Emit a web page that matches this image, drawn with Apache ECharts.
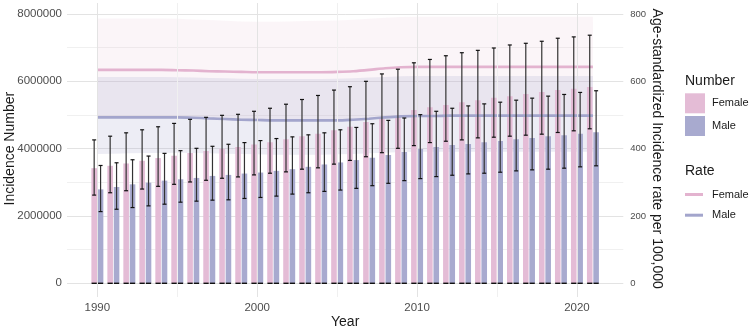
<!DOCTYPE html>
<html>
<head>
<meta charset="utf-8">
<script src="https://cdn.jsdelivr.net/npm/echarts@6/dist/echarts.min.js"></script>
<style>html,body{margin:0;padding:0;background:#fff}#c{width:752px;height:333px}</style>
</head>
<body>
<div id="c"></div>
<script>
const years = [1990,1991,1992,1993,1994,1995,1996,1997,1998,1999,2000,2001,2002,2003,2004,2005,2006,2007,2008,2009,2010,2011,2012,2013,2014,2015,2016,2017,2018,2019,2020,2021];
const femaleNum  = [3420000,3490000,3560000,3640000,3720000,3790000,3870000,3930000,4000000,4050000,4120000,4190000,4280000,4370000,4440000,4550000,4650000,4790000,4880000,4980000,5150000,5230000,5300000,5380000,5440000,5510000,5560000,5620000,5680000,5740000,5780000,5830000];
const femaleLow  = [2620000,2690000,2750000,2800000,2880000,2940000,3010000,3060000,3120000,3160000,3220000,3270000,3310000,3390000,3430000,3540000,3650000,3760000,3880000,4010000,4090000,4180000,4220000,4260000,4320000,4340000,4370000,4400000,4430000,4480000,4530000,4590000];
const femaleHigh = [4260000,4370000,4470000,4560000,4650000,4750000,4870000,4930000,4990000,5020000,5110000,5200000,5320000,5460000,5580000,5740000,5840000,6000000,6220000,6360000,6550000,6650000,6760000,6850000,6920000,6990000,7080000,7130000,7190000,7280000,7320000,7370000];
const maleNum  = [2790000,2860000,2940000,2990000,3050000,3090000,3130000,3190000,3220000,3260000,3290000,3340000,3390000,3460000,3530000,3590000,3660000,3730000,3810000,3900000,3990000,4050000,4110000,4140000,4190000,4230000,4280000,4320000,4370000,4400000,4440000,4490000];
const maleLow  = [2130000,2200000,2250000,2300000,2350000,2410000,2440000,2470000,2480000,2520000,2550000,2590000,2650000,2690000,2730000,2770000,2820000,2900000,2970000,3050000,3110000,3170000,3210000,3250000,3270000,3300000,3340000,3370000,3390000,3420000,3460000,3490000];
const maleHigh = [3500000,3580000,3670000,3780000,3860000,3940000,4010000,4070000,4130000,4180000,4240000,4300000,4350000,4410000,4470000,4560000,4630000,4740000,4840000,4910000,5010000,5110000,5200000,5270000,5330000,5380000,5440000,5500000,5560000,5610000,5670000,5720000];
const femaleRate      = [634,634,634,634,634,633,632,630,629,628,627,627,627,627,627,628,630,634,639,642,643,643,643,643,643,643,643,643,643,643,643,643];
const femaleRateUpper = [787,787,787,787,787,786,784,782,780,778,777,777,778,779,780,781,783,786,789,791,792,792,792,792,792,792,792,792,792,792,792,792];
const femaleRateLower = [491,491,491,491,491,490,489,487,485,483,482,481,481,481,481,482,484,487,490,493,495,495,495,495,495,495,495,495,495,495,495,495];
const maleRate      = [493,493,493,493,493,493,492,490,488,486,485,484,484,484,484,484,486,489,493,496,497,497,498,498,498,498,498,498,498,498,498,498];
const maleRateUpper = [613,613,613,613,613,612,611,610,609,608,607,607,607,607,607,608,609,611,613,615,616,616,616,616,616,616,616,616,616,616,616,616];
const maleRateLower = [384,385,386,387,387,388,387,386,385,384,383,382,382,382,382,383,384,386,388,390,391,391,391,391,391,391,391,391,391,391,391,391];
const xTickLabels = [1990,2000,2010,2020];
const xMinorTicks = [1995,2005,2015];
const leftTicks = [0,2000000,4000000,6000000,8000000];
const rightTicks = [0,200,400,600,800];

const FONT = "'Liberation Sans', Arial, sans-serif";
const C_F = '#e4bcd6', C_M = '#a8aacf';
const C_FL = '#e3b3cf', C_ML = '#a3a5cc';

function bandSeries(name, upper, lower, fill) {
  return {
    type: 'custom', name: name, xAxisIndex: 0, yAxisIndex: 1, z: 1, silent: true,
    data: years.map((y, i) => [y, upper[i], lower[i]]),
    renderItem: function (params, api) {
      if (params.dataIndex !== 0) return null;
      const pts = [];
      for (let i = 0; i < years.length; i++) pts.push(api.coord([years[i], upper[i]]));
      for (let i = years.length - 1; i >= 0; i--) pts.push(api.coord([years[i], lower[i]]));
      return { type: 'polygon', shape: { points: pts }, style: { fill: fill } };
    }
  };
}

function errSeries(name, low, high, offset) {
  return {
    type: 'custom', name: name, xAxisIndex: 0, yAxisIndex: 0, z: 5, silent: true,
    data: years.map((y, i) => [y, low[i], high[i]]),
    renderItem: function (params, api) {
      const x = api.value(0);
      const lo = api.coord([x, api.value(1)]);
      const hi = api.coord([x, api.value(2)]);
      const b = api.coord([x, 0]);
      const cx = lo[0] + offset;
      const cap = 2;
      return {
        type: 'group', children: [
          { type: 'line', shape: { x1: cx, y1: hi[1], x2: cx, y2: lo[1] }, style: { stroke: '#333', lineWidth: 1.2 } },
          { type: 'line', shape: { x1: cx - cap, y1: hi[1], x2: cx + cap, y2: hi[1] }, style: { stroke: '#111', lineWidth: 1.2 } },
          { type: 'line', shape: { x1: cx - cap, y1: lo[1], x2: cx + cap, y2: lo[1] }, style: { stroke: '#111', lineWidth: 1.2 } },
          { type: 'line', shape: { x1: cx - 2.6, y1: b[1], x2: cx + 2.6, y2: b[1] }, style: { stroke: '#111', lineWidth: 1.4 } }
        ]
      };
    }
  };
}

const gridMarks = xTickLabels.map(v => ({ xAxis: v, lineStyle: { color: '#e3e3e3', width: 1, type: 'solid' } }))
  .concat(xMinorTicks.map(v => ({ xAxis: v, lineStyle: { color: '#f0f0f0', width: 1, type: 'solid' } })));

const chart = echarts.init(document.getElementById('c'), null, { renderer: 'canvas' });
chart.setOption({
  animation: false,
  backgroundColor: '#ffffff',
  textStyle: { fontFamily: FONT },
  grid: [
    { left: 67, right: 128.7, top: 14, bottom: 49.7, containLabel: false, outerBoundsMode: 'none' },
    { left: 67, right: 128.7, top: 3, bottom: 36, containLabel: false, outerBoundsMode: 'none' }
  ],
  xAxis: [
    {
      type: 'value', gridIndex: 0, min: 1988.1, max: 2022.9,
      axisLine: { show: false }, axisTick: { show: false }, splitLine: { show: false },
      axisLabel: { customValues: xTickLabels, margin: 19, fontSize: 11.5, color: '#4d4d4d', fontFamily: FONT, formatter: v => String(v) },
      name: 'Year', nameLocation: 'middle', nameGap: 32, nameMoveOverlap: false,
      nameTextStyle: { fontSize: 14, color: '#1a1a1a', fontFamily: FONT }
    },
    {
      type: 'value', gridIndex: 1, min: 1988.1, max: 2022.9, show: false,
      splitLine: { show: false }
    }
  ],
  yAxis: [
    {
      type: 'value', gridIndex: 0, min: 0, max: 8000000, interval: 2000000, position: 'left',
      axisLine: { show: false }, axisTick: { show: false },
      splitLine: { show: true, lineStyle: { color: '#e3e3e3', width: 1 } },
      minorTick: { show: false, splitNumber: 2 },
      minorSplitLine: { show: true, lineStyle: { color: '#f0f0f0', width: 1 } },
      axisLabel: { customValues: leftTicks, margin: 5, fontSize: 11.5, color: '#4d4d4d', fontFamily: FONT, formatter: v => String(v) },
      name: 'Incidence Number', nameLocation: 'middle', nameGap: 49.5, nameMoveOverlap: false,
      nameTextStyle: { fontSize: 14, color: '#1a1a1a', fontFamily: FONT }
    },
    {
      type: 'value', gridIndex: 0, min: 0, max: 800, interval: 200, position: 'right',
      axisLine: { show: false }, axisTick: { show: false }, splitLine: { show: false },
      axisLabel: { margin: 7, fontSize: 9.5, color: '#4d4d4d', fontFamily: FONT },
      name: 'Age-standardized Incidence rate per 100,000', nameLocation: 'middle', nameRotate: -90, nameGap: 27, nameMoveOverlap: false,
      nameTextStyle: { fontSize: 14, color: '#1a1a1a', fontFamily: FONT }
    },
    { type: 'value', gridIndex: 1, min: 0, max: 1, show: false, splitLine: { show: false } }
  ],
  legend: [
    {
      data: ['Female', 'Male'], orient: 'vertical', left: 685, top: 93.3,
      icon: 'rect', itemWidth: 20, itemHeight: 20, itemGap: 2.7, padding: 0,
      textStyle: { fontSize: 11, color: '#1a1a1a', fontFamily: FONT, lineHeight: 14, padding: [0, 0, 0, 2] },
      selectedMode: false
    },
    {
      data: ['Female ', 'Male '], orient: 'vertical', left: 685, top: 187.5,
      icon: 'rect', itemWidth: 18, itemHeight: 3, itemGap: 6.7, padding: 0,
      formatter: n => n.trim(),
      textStyle: { fontSize: 11, color: '#1a1a1a', fontFamily: FONT, lineHeight: 14, padding: [0, 0, 0, 4] },
      selectedMode: false
    }
  ],
  graphic: [
    { type: 'text', left: 685, top: 74, style: { text: 'Number', fontSize: 14, fill: '#1a1a1a', fontFamily: FONT } },
    { type: 'text', left: 685, top: 164, style: { text: 'Rate', fontSize: 14, fill: '#1a1a1a', fontFamily: FONT } }
  ],
  series: [
    {
      type: 'line', name: 'gridlines', xAxisIndex: 1, yAxisIndex: 2, data: [[1990, -1]], symbol: 'none', silent: true, z: 0,
      lineStyle: { opacity: 0 },
      markLine: { silent: true, symbol: 'none', label: { show: false }, animation: false, data: gridMarks }
    },
    bandSeries('femaleBand', femaleRateUpper, femaleRateLower, 'rgba(228,190,214,0.16)'),
    bandSeries('maleBand', maleRateUpper, maleRateLower, 'rgba(160,160,200,0.19)'),
    {
      type: 'bar', name: 'Female', xAxisIndex: 0, yAxisIndex: 0, z: 2,
      data: years.map((y, i) => [y, femaleNum[i]]),
      barWidth: 5.6, barGap: '14%', itemStyle: { color: C_F }
    },
    {
      type: 'bar', name: 'Male', xAxisIndex: 0, yAxisIndex: 0, z: 2,
      data: years.map((y, i) => [y, maleNum[i]]),
      barWidth: 5.6, barGap: '14%', itemStyle: { color: C_M }
    },
    {
      type: 'line', name: 'Female ', xAxisIndex: 0, yAxisIndex: 1, z: 3, symbol: 'none', smooth: 0.3,
      data: years.map((y, i) => [y, femaleRate[i]]),
      lineStyle: { color: C_FL, width: 2.6 }, itemStyle: { color: C_FL }
    },
    {
      type: 'line', name: 'Male ', xAxisIndex: 0, yAxisIndex: 1, z: 3, symbol: 'none', smooth: 0.3,
      data: years.map((y, i) => [y, maleRate[i]]),
      lineStyle: { color: C_ML, width: 2.6 }, itemStyle: { color: C_ML }
    },
    errSeries('femaleErr', femaleLow, femaleHigh, -3.2),
    errSeries('maleErr', maleLow, maleHigh, 3.2)
  ]
});
</script>
</body>
</html>
